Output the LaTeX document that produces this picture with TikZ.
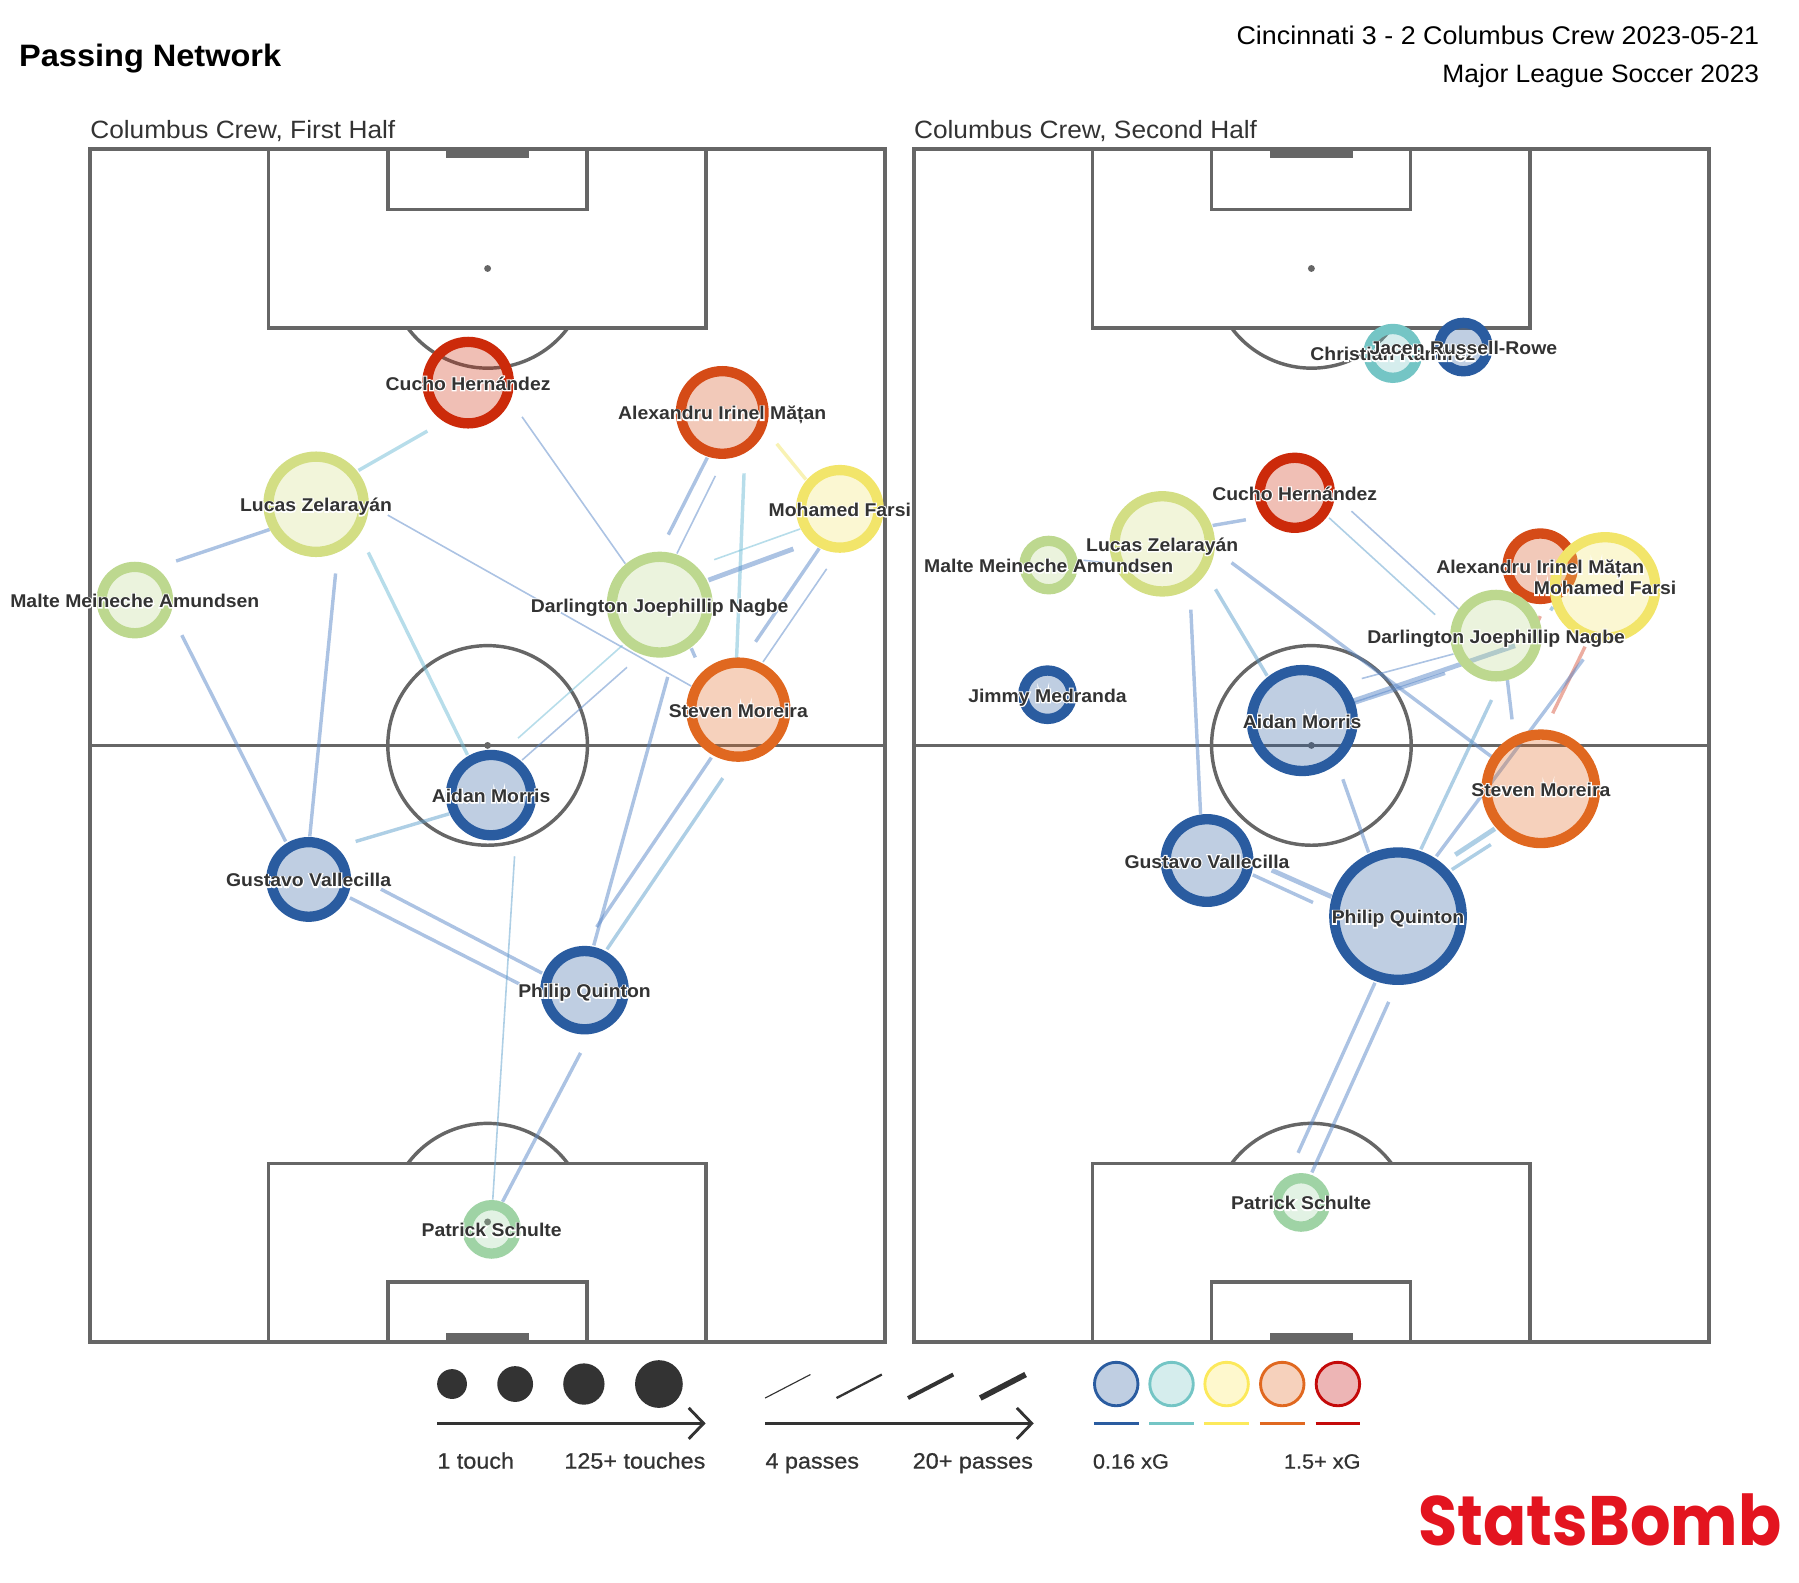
\documentclass[tikz,border=0pt]{standalone}
\usepackage{fontspec}
\usetikzlibrary{arrows.meta}
\setmainfont{Liberation Sans}[FakeStretch=1.05]
\newfontfamily\halofont{Liberation Sans Bold}[FakeStretch=1.05,FakeBold=12]
\newfontfamily\mediumfont{Liberation Sans}[FakeStretch=1.05,FakeBold=.8]
\newfontfamily\logofont{Poppins}[FakeStretch=.91]
\definecolor{pitchgrey}{HTML}{666666}
\definecolor{inkgrey}{HTML}{333333}
\definecolor{ringblue}{HTML}{2A5CA0}
\definecolor{ringteal}{HTML}{74C5C5}
\definecolor{ringlime}{HTML}{D3DE84}
\definecolor{ringgreen}{HTML}{BDD88F}
\definecolor{ringmint}{HTML}{9FD3A5}
\definecolor{ringyellow}{HTML}{F2E56A}
\definecolor{ringorange}{HTML}{E06820}
\definecolor{ringrust}{HTML}{D54B17}
\definecolor{ringred}{HTML}{CC2A0A}
\definecolor{swatchyellow}{HTML}{FCE95B}
\definecolor{swatchred}{HTML}{C40A0A}
\definecolor{logored}{HTML}{E3141F}
\definecolor{passblue}{HTML}{5A88C8}
\definecolor{passteal}{HTML}{70BCD6}
\definecolor{passsky}{HTML}{5E9FCC}
\pgfdeclarelayer{pitch}
\pgfdeclarelayer{passes}
\pgfdeclarelayer{names}
\pgfsetlayers{pitch,passes,main,names}
\tikzset{
  pitchline/.style={draw=pitchgrey,line width=3pt},
  player/.style={circle,inner sep=0pt,line width=9pt,fill opacity=.3},
  playername/.style={inner sep=0pt,yshift=-.8pt,text height=11.5pt,text depth=0pt,text=inkgrey,font=\fontsize{16.1}{18}\selectfont\bfseries},
  bluepass/.style={draw=passblue,opacity=.5},
  tealpass/.style={draw=passteal,opacity=.5},
  skypass/.style={draw=passsky,opacity=.5},
  yellowpass/.style={draw=ringyellow,opacity=.5},
  redpass/.style={draw=ringred!85!white,opacity=.45},
  passthin/.style={line width=1.4pt},
  passmid/.style={line width=3pt},
  passwide/.style={line width=4.2pt},
  legendtext/.style={inner sep=0pt,text=inkgrey,font=\mediumfont\fontsize{19.4}{22}\selectfont},
  legendarrow/.style={draw=inkgrey,line width=2.5pt,-{Straight Barb[length=13pt,width=27pt,line width=2.5pt]}}
}
\newcommand{\passlink}[5]{\draw[#1] ([shift={(#3)}]#2.center) -- ([shift={(#5)}]#4.center);}
\newcommand{\halotext}[1]{\rlap{\mdseries\halofont\color{white}#1}#1}
\begin{document}
\begin{tikzpicture}[x=1pt,y=-1pt]
  \useasboundingbox (0,0) rectangle (1568,1379.7);

  \node[anchor=base west,inner sep=0pt,font=\fontsize{27}{32}\selectfont\bfseries] (title) at (16.5,58) {Passing Network};
  \node[anchor=base east,inner sep=0pt,font=\fontsize{22.3}{25}\selectfont] (match) at (1533.5,39) {Cincinnati 3 - 2 Columbus Crew 2023-05-21};
  \node[anchor=base east,inner sep=0pt,font=\fontsize{21.9}{25}\selectfont] (league) at (1533.5,72) {Major League Soccer 2023};
  \node[anchor=base west,inner sep=0pt,text=inkgrey,font=\fontsize{21.8}{25}\selectfont] (firsthalf) at (78.5,121) {Columbus Crew, First Half};
  \node[anchor=base west,inner sep=0pt,text=inkgrey,font=\fontsize{21.8}{25}\selectfont] (secondhalf) at (796.5,121) {Columbus Crew, Second Half};

  \begin{pgfonlayer}{pitch}
    \foreach \ox in {0,718} {
      \begin{scope}[xshift=\ox pt]
        \draw[pitchline] (78.5,130) rectangle (771.5,1169.5);
        \draw[pitchline] (78.5,649.7) -- (771.5,649.7);
        \draw[pitchline] (425,649.7) circle[radius=87pt];
        \draw[pitchline] (234,130) rectangle (615.5,286);
        \draw[pitchline] (338,130) rectangle (511.5,182.5);
        \draw[pitchline] (234,1169.5) rectangle (615.5,1014);
        \draw[pitchline] (338,1169.5) rectangle (511.5,1117.5);
        \fill[pitchgrey] (389,130) rectangle (461,137.5);
        \fill[pitchgrey] (389,1162) rectangle (461,1169.5);
        \fill[pitchgrey] (425,234) circle[radius=3pt];
        \fill[pitchgrey] (425,1065) circle[radius=3pt];
        \fill[pitchgrey] (425,649.7) circle[radius=3pt];
        \draw[pitchline] (355.5,286) arc[start angle=216.8,end angle=323.2,radius=87pt];
        \draw[pitchline] (355.5,1014) arc[start angle=143.2,end angle=36.8,radius=87pt];
      \end{scope}
    }
  \end{pgfonlayer}

  \foreach \id/\x/\y/\rad/\col/\pname in {
    cuchoA/408/333.5/40/ringred/Cucho Hernández,
    alexA/629.5/359.5/40.5/ringrust/Alexandru Irinel Mățan,
    lucasA/275.5/439.5/46/ringlime/Lucas Zelarayán,
    farsiA/732/443.5/38.3/ringyellow/Mohamed Farsi,
    malteA/117.5/523/33.4/ringgreen/Malte Meineche Amundsen,
    nagbeA/575/527/46.2/ringgreen/Darlington Joephillip Nagbe,
    moreiraA/643.5/618.5/45.5/ringorange/Steven Moreira,
    morrisA/428/693/39.5/ringblue/Aidan Morris,
    vallecillaA/269/766.5/37/ringblue/Gustavo Vallecilla,
    quintonA/509.5/863/38.6/ringblue/Philip Quinton,
    schulteA/428.5/1071.5/25.6/ringmint/Patrick Schulte,
    ramirezB/1214/308/25.8/ringteal/Christian Ramírez,
    russellB/1275.5/302.5/25.6/ringblue/Jacen Russell-Rowe,
    cuchoB/1128.5/429.5/35/ringred/Cucho Hernández,
    lucasB/1013/474/46/ringlime/Lucas Zelarayán,
    malteB/914/492.5/25.6/ringgreen/Malte Meineche Amundsen,
    alexB/1342.5/493.5/33/ringrust/Alexandru Irinel Mățan,
    farsiB/1399/512/48.3/ringyellow/Mohamed Farsi,
    nagbeB/1304/554/40/ringgreen/Darlington Joephillip Nagbe,
    medrandaB/913/605.5/25.6/ringblue/Jimmy Medranda,
    morrisB/1135/628/48.5/ringblue/Aidan Morris,
    moreiraB/1343/687.5/51.8/ringorange/Steven Moreira,
    vallecillaB/1052/750/40.5/ringblue/Gustavo Vallecilla,
    quintonB/1218.5/798.5/60/ringblue/Philip Quinton,
    schulteB/1134/1048/25.6/ringmint/Patrick Schulte} {
    \node[player,draw=\col,fill=\col,minimum size={2*\rad-9}] (\id) at (\x,\y) {};
    \begin{pgfonlayer}{names}
      \node[playername] (\id-name) at (\id.center) {\halotext{\pname}};
    \end{pgfonlayer}
  }

  \begin{pgfonlayer}{passes}
    \passlink{tealpass,passmid}{cuchoA}{-35.5,42.2}{lucasA}{37,-29.5}
    \passlink{bluepass,passthin}{cuchoA}{47,29.8}{nagbeA}{-30,-35.7}
    \passlink{bluepass,passmid}{lucasA}{-40.5,22}{malteA}{36,-34}
    \passlink{bluepass,passthin}{lucasA}{62.5,9.5}{moreiraA}{-41,-20.5}
    \passlink{bluepass,passmid}{lucasA}{17,60.3}{vallecillaA}{1,-37.5}
    \passlink{tealpass,passmid}{lucasA}{45.5,42}{morrisA}{-20.5,-35}
    \passlink{bluepass,passmid}{malteA}{41,30.6}{vallecillaA}{-20,-33.1}
    \passlink{bluepass,passmid}{alexA}{-13,39.3}{nagbeA}{7.5,-61}
    \passlink{bluepass,passthin}{alexA}{-6,55.3}{nagbeA}{15,-44.6}
    \passlink{tealpass,passmid}{alexA}{19,53.1}{moreiraA}{-1.5,-44.9}
    \passlink{yellowpass,passmid}{alexA}{47.5,27.3}{farsiA}{-29.5,-25.5}
    \passlink{tealpass,passthin}{farsiA}{-34.5,17.5}{nagbeA}{47.5,-39.2}
    \passlink{bluepass,passwide}{nagbeA}{42.5,-21.4}{farsiA}{-40.5,34.9}
    \passlink{bluepass,passmid}{farsiA}{-18,34.5}{moreiraA}{15,-59.1}
    \passlink{bluepass,passthin}{farsiA}{-11.5,52.3}{moreiraA}{21.5,-41.5}
    \passlink{bluepass,passmid}{nagbeA}{27.5,38}{moreiraA}{-37.5,-45.5}
    \passlink{tealpass,passthin}{nagbeA}{-32.5,35.5}{morrisA}{23.5,-49.6}
    \passlink{bluepass,passthin}{nagbeA}{-28.5,54.6}{morrisA}{27,-30.5}
    \passlink{bluepass,passmid}{nagbeA}{7,63}{quintonA}{8,-39}
    \passlink{bluepass,passmid}{moreiraA}{-23.5,41.8}{quintonA}{10.5,-55}
    \passlink{skypass,passmid}{moreiraA}{-13.5,59.7}{quintonA}{19.5,-35.6}
    \passlink{skypass,passmid}{morrisA}{-36.5,16.3}{vallecillaA}{41,-33.1}
    \passlink{bluepass,passmid}{vallecillaA}{63,8.5}{quintonA}{-37,-14.8}
    \passlink{bluepass,passmid}{vallecillaA}{36,16}{quintonA}{-57,-5.5}
    \passlink{skypass,passthin}{morrisA}{20.5,53.3}{schulteA}{1,-26}
    \passlink{bluepass,passmid}{quintonA}{-3.5,54.7}{schulteA}{9.5,-24.1}

    \passlink{bluepass,passmid}{lucasB}{43.9,-16}{cuchoB}{-42.6,23.5}
    \passlink{bluepass,passthin}{cuchoB}{49.4,16}{nagbeB}{-32.1,-22.7}
    \passlink{skypass,passthin}{cuchoB}{29.9,21.8}{nagbeB}{-53.1,-18.2}
    \passlink{bluepass,passmid}{lucasB}{60.4,16.4}{moreiraB}{-43,-28}
    \passlink{skypass,passmid}{lucasB}{46.4,39.6}{morrisB}{-30.6,-39}
    \passlink{bluepass,passmid}{lucasB}{24.9,57.3}{vallecillaB}{-5.6,-40.7}
    \passlink{bluepass,passthin}{malteB}{30.4,-4.2}{lucasB}{-46,17}
    \passlink{bluepass,passthin}{morrisB}{51.9,-36.6}{nagbeB}{-37.2,16}
    \passlink{bluepass,passwide}{morrisB}{44.4,-17.1}{nagbeB}{16.5,8.8}
    \passlink{bluepass,passmid}{nagbeB}{-44.5,32.9}{morrisB}{45,-15}
    \passlink{bluepass,passmid}{nagbeB}{9.8,38.7}{moreiraB}{-25.1,-60.5}
    \passlink{skypass,passmid}{nagbeB}{-4,56.1}{quintonB}{19.9,-58.2}
    \passlink{redpass,passmid}{farsiB}{-17.5,51.6}{moreiraB}{10.3,-65.8}
    \passlink{bluepass,passmid}{farsiB}{-19,62.7}{quintonB}{33.4,-52.2}
    \passlink{skypass,passwide}{moreiraB}{-40.1,34.8}{quintonB}{49.9,-53.5}
    \passlink{skypass,passmid}{moreiraB}{-43.6,48.6}{quintonB}{46.9,-40.6}
    \passlink{bluepass,passmid}{morrisB}{35.4,51.2}{quintonB}{-25.6,-55.5}
    \passlink{bluepass,passwide}{vallecillaB}{56.4,8.4}{quintonB}{-58.1,-17}
    \passlink{bluepass,passmid}{vallecillaB}{39.9,12.5}{quintonB}{-74.1,-11.9}
    \passlink{bluepass,passmid}{quintonB}{-20.1,58.1}{schulteB}{-2.6,-43.2}
    \passlink{bluepass,passmid}{quintonB}{-8.1,74.7}{schulteB}{9.4,-26.1}
    \passlink{redpass,passmid}{alexB}{0,43.5}{nagbeB}{36.5,-12.5}
    \passlink{skypass,passmid}{alexB}{11,35.5}{nagbeB}{47.5,-22}
  \end{pgfonlayer}

  \foreach \n/\x/\rad in {a/394/13,b/449/15.6,c/508.9/18,d/574.3/20.8} {
    \node[circle,inner sep=0pt,fill=inkgrey,minimum size={2*\rad}] (touchdot\n) at (\x,1206.3) {};
  }
  \foreach \n/\x/\w in {a/666.9/1,b/729.1/2,c/791.4/3.5,d/854.4/5} {
    \coordinate (passlow\n) at (\x,1218.5);
    \coordinate (passhigh\n) at (\x+39.5,1198);
    \draw[inkgrey,line width=\w pt] (passlow\n) -- (passhigh\n);
  }
  \coordinate (touchstart) at (381,1240.6);
  \coordinate (touchend) at (615,1240.6);
  \coordinate (passstart) at (667,1240.6);
  \coordinate (passend) at (901,1240.6);
  \draw[legendarrow] (touchstart) -- (touchend);
  \draw[legendarrow] (passstart) -- (passend);
  \foreach \n/\x/\col in {a/972.9/ringblue,b/1021.1/ringteal,c/1069.1/swatchyellow,d/1117.6/ringorange,e/1166.1/swatchred} {
    \node[circle,inner sep=0pt,line width=2.5pt,draw=\col,fill=\col,fill opacity=.3,minimum size=37.9pt] (swatch\n) at (\x,1206.3) {};
    \coordinate (barleft\n) at (\x-19.5,1240.6);
    \coordinate (barright\n) at (\x+19.5,1240.6);
    \draw[\col,line width=2.5pt] (barleft\n) -- (barright\n);
  }
  \node[legendtext,anchor=base west] (onetouch) at (381,1280) {1 touch};
  \node[legendtext,anchor=base east] (manytouches) at (615,1280) {125+ touches};
  \node[legendtext,anchor=base west] (fourpasses) at (667,1280) {4 passes};
  \node[legendtext,anchor=base east] (manypasses) at (900.5,1280) {20+ passes};
  \node[legendtext,anchor=base west,font=\mediumfont\fontsize{18}{22}\selectfont] (lowxg) at (952.4,1280) {0.16 xG};
  \node[legendtext,anchor=base east,font=\mediumfont\fontsize{18}{22}\selectfont] (highxg) at (1186,1280) {1.5+ xG};

  \node[anchor=base east,inner sep=0pt,text=logored,font=\logofont\bfseries\fontsize{61}{66}\selectfont] (logo) at (1553,1347) {StatsBomb};
\end{tikzpicture}
\end{document}
